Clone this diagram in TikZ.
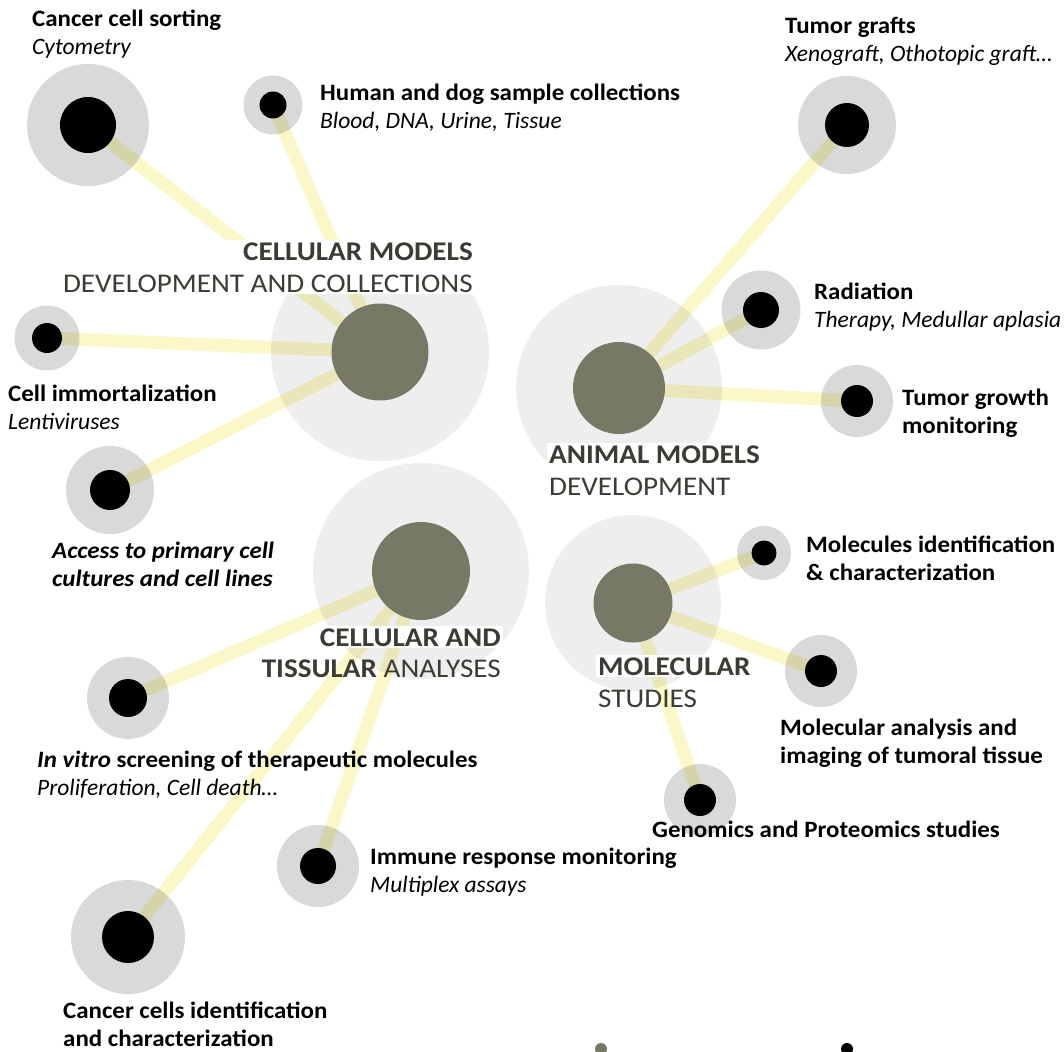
\documentclass[tikz,border=0pt]{standalone}
\usepackage{fontspec}
\setmainfont{Carlito}[BoldFeatures = {FakeStretch = 1.06}, BoldItalicFeatures = {FakeStretch = 1.06}]
\newfontfamily\hubfamily{Carlito}[FakeStretch = 1.08]

\definecolor{halogray}{HTML}{D9D9D9}
\definecolor{zonegray}{HTML}{EEEEEE}
\definecolor{hubolive}{HTML}{777866}
\definecolor{linkyellow}{HTML}{FAF8C8}
\definecolor{hubink}{HTML}{3C3C34}

\newcommand\leaffont{\fontsize{23.5}{28}\selectfont}
\newcommand\hubfont{\hubfamily\fontsize{27}{32}\selectfont}

\begin{document}
\begin{tikzpicture}[
        x = 1pt, y = -1pt,
        every node/.style = {
            inner sep = 0pt
        },
        zone/.style = {circle, fill = zonegray, minimum size = #1},
        halo/.style = {circle, fill = halogray, minimum size = #1},
        dot/.style = {circle, fill = black, minimum size = #1},
        hub/.style = {circle, fill = hubolive, minimum size = #1},
        link/.style = {draw = linkyellow, line width = 13pt, blend mode = multiply},
        leaf/.style = {font = \leaffont, align = left, anchor = base west},
        hubname/.style = {font = \hubfont, text = hubink, inner sep = 2pt}
    ]
    \useasboundingbox (0, 0) rectangle (1064, 1051);
    \clip (0, 0) rectangle (1064, 1051);

    % big zones round the four hubs
    \node[zone = 218pt] (cmzone) at (380, 352) {};
    \node[zone = 206pt] (amzone) at (619, 388) {};
    \node[zone = 216pt] (ctzone) at (421, 571) {};
    \node[zone = 176pt] (mozone) at (633, 603) {};

    % halos of the leaves
    \node[halo = 122pt] (hsort) at (88, 125) {};
    \node[halo = 59pt] (hbank) at (273, 105) {};
    \node[halo = 65pt] (himmort) at (47, 338) {};
    \node[halo = 88pt] (hprimary) at (110, 490) {};
    \node[halo = 98pt] (hgraft) at (847, 125) {};
    \node[halo = 79pt] (hradio) at (761, 310) {};
    \node[halo = 72pt] (hgrowth) at (857, 401) {};
    \node[halo = 82pt] (hvitro) at (128, 698) {};
    \node[halo = 114pt] (hident) at (128, 937) {};
    \node[halo = 82pt] (himmune) at (318, 866) {};
    \node[halo = 54pt] (hmolid) at (764, 553) {};
    \node[halo = 72pt] (hmolan) at (821, 671) {};
    \node[halo = 72pt] (hgenom) at (700, 800) {};

    % links hub -> leaf
    \draw[link] (cmzone.center) -- (hsort.center);
    \draw[link] (cmzone.center) -- (hbank.center);
    \draw[link] (cmzone.center) -- (himmort.center);
    \draw[link] (cmzone.center) -- (hprimary.center);
    \draw[link] (amzone.center) -- (hgraft.center);
    \draw[link] (amzone.center) -- (hradio.center);
    \draw[link] (amzone.center) -- (hgrowth.center);
    \draw[link] (ctzone.center) -- (hvitro.center);
    \draw[link] (ctzone.center) -- (hident.center);
    \draw[link] (ctzone.center) -- (himmune.center);
    \draw[link] (mozone.center) -- (hmolid.center);
    \draw[link] (mozone.center) -- (hmolan.center);
    \draw[link] (mozone.center) -- (hgenom.center);

    % hubs and dots
    \node[hub = 97pt] (cm) at (cmzone) {};
    \node[hub = 92pt] (am) at (amzone) {};
    \node[hub = 98pt] (ct) at (ctzone) {};
    \node[hub = 79pt] (mo) at (mozone) {};
    \node[dot = 56pt] (sort) at (hsort) {};
    \node[dot = 27pt] (bank) at (hbank) {};
    \node[dot = 30pt] (immort) at (himmort) {};
    \node[dot = 40pt] (primary) at (hprimary) {};
    \node[dot = 44pt] (graft) at (hgraft) {};
    \node[dot = 36pt] (radio) at (hradio) {};
    \node[dot = 32pt] (growth) at (hgrowth) {};
    \node[dot = 38pt] (vitro) at (hvitro) {};
    \node[dot = 52pt] (ident) at (hident) {};
    \node[dot = 36pt] (immune) at (himmune) {};
    \node[dot = 25pt] (molid) at (hmolid) {};
    \node[dot = 32pt] (molan) at (hmolan) {};
    \node[dot = 32pt] (genom) at (hgenom) {};

    % hub names (base = last line)
    \node[hubname, fill = white, align = right, anchor = base east] (cmtxt) at (475, 292) {\textbf{CELLULAR MODELS}\\DEVELOPMENT AND COLLECTIONS};
    \node[hubname, fill = white, align = left, anchor = base west] (amtxt) at (547, 495) {\textbf{ANIMAL MODELS}\\DEVELOPMENT};
    \node[hubname, fill = white, anchor = base east] (cttxt) at (503, 646) {\textbf{CELLULAR AND}};
    \node[hubname, anchor = base east] (cttxtb) at (503, 677) {\textbf{TISSULAR} ANALYSES};
    \node[hubname, fill = white, anchor = base west] (motxt) at (596, 675) {\textbf{MOLECULAR}};
    \node[hubname, anchor = base west] (motxtb) at (596, 707) {STUDIES};

    % leaf texts (base = last line)
    \node[leaf] (sorttxt) at (32, 55) {\textbf{Cancer cell sorting}\\\textit{Cytometry}};
    \node[leaf] (banktxt) at (320, 129) {\textbf{Human and dog sample collections}\\\textit{Blood, DNA, Urine, Tissue}};
    \node[leaf] (immorttxt) at (8, 429) {\textbf{Cell immortalization}\\\textit{Lentiviruses}};
    \node[leaf] (primarytxt) at (52, 586) {\textbf{\textit{Access to primary cell}}\\\textbf{\textit{cultures and cell lines}}};
    \node[leaf] (grafttxt) at (785, 62) {\textbf{Tumor grafts}\\\textit{Xenograft, Othotopic graft…}};
    \node[leaf] (radiotxt) at (814, 327) {\textbf{Radiation}\\\textit{Therapy, Medullar aplasia}};
    \node[leaf] (growthtxt) at (902, 433) {\textbf{Tumor growth}\\\textbf{monitoring}};
    \node[leaf] (vitrotxt) at (37, 795) {\textbf{\textit{In vitro} screening of therapeutic molecules}\\\textit{Proliferation, Cell death…}};
    \node[leaf] (identtxt) at (63, 1046) {\textbf{Cancer cells identification}\\\textbf{and characterization}};
    \node[leaf] (immunetxt) at (370, 892) {\textbf{Immune response monitoring}\\\textit{Multiplex assays}};
    \node[leaf] (molidtxt) at (806, 580) {\textbf{Molecules identification}\\\textbf{\& characterization}};
    \node[leaf] (molantxt) at (780, 763) {\textbf{Molecular analysis and}\\\textbf{imaging of tumoral tissue}};
    \node[leaf] (genomtxt) at (652, 837) {\textbf{Genomics and Proteomics studies}};

    % cut legend marks at the lower edge
    \node[hub = 12pt] (keyhub) at (601, 1049) {};
    \node[dot = 12pt] (keydot) at (847, 1049) {};
\end{tikzpicture}
\end{document}
